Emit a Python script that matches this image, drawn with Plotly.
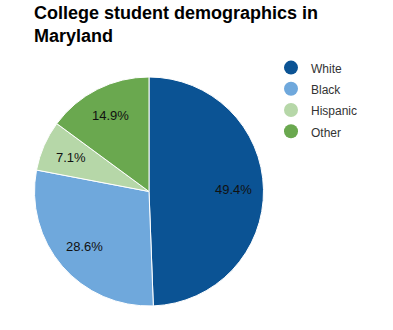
import math
import plotly.graph_objects as go

# Enrollment shares by group (percent)
groups = ["White", "Black", "Hispanic", "Other"]
shares = [49.4, 28.6, 7.1, 14.9]
colors = ["#0b5394", "#6fa8dc", "#b6d7a8", "#6aa84f"]

W, H = 393, 330
FONT = "Liberation Sans, Arial, sans-serif"

# Pie placement in pixels
cx, cy, R = 149.0, 191.5, 114.5
LABEL_R = 0.74 * R

fig = go.Figure()

fig.add_trace(go.Pie(
    labels=groups,
    values=shares,
    sort=False,
    direction="clockwise",
    rotation=0,
    marker=dict(colors=colors, line=dict(color="white", width=1)),
    textinfo="none",
    hoverinfo="label+percent",
    showlegend=False,
    domain=dict(x=[(cx - R) / W, (cx + R) / W], y=[(H - cy - R) / H, (H - cy + R) / H]),
))

# Circular legend swatches
for g, c in zip(groups, colors):
    fig.add_trace(go.Scatter(
        x=[None], y=[None], mode="markers",
        name=f'<span style="font-size:12px">{g}</span>',
        marker=dict(symbol="circle", size=14, color=c),
        hoverinfo="skip",
    ))

# Percentage labels placed at each slice's mid-angle (clockwise from 12 o'clock)
annotations = []
total = sum(shares)
cum = 0.0
for v in shares:
    mid = (cum + v / 2) / total * 2 * math.pi
    cum += v
    px = cx + LABEL_R * math.sin(mid)
    py = cy - LABEL_R * math.cos(mid)
    annotations.append(dict(
        text=f"{v:.1f}%", xref="paper", yref="paper",
        x=px / W, y=1 - py / H, xanchor="center", yanchor="middle",
        showarrow=False,
        font=dict(family=FONT, size=13, color="#111111"),
    ))

annotations.append(dict(
    text="<b>College student demographics in<br>Maryland</b>",
    xref="paper", yref="paper",
    x=32 / W, y=1 - 1 / H, xanchor="left", yanchor="top",
    align="left", showarrow=False,
    font=dict(family=FONT, size=18, color="#000000"),
))

fig.update_layout(
    width=W, height=H,
    margin=dict(l=0, r=0, t=0, b=0),
    paper_bgcolor="white",
    plot_bgcolor="white",
    xaxis=dict(visible=False),
    yaxis=dict(visible=False),
    showlegend=True,
    legend=dict(
        x=271 / W, y=1 - 52 / H, xanchor="left", yanchor="top",
        font=dict(family=FONT, size=14, color="#333333"),
        bgcolor="rgba(0,0,0,0)",
        tracegroupgap=0,
    ),
    annotations=annotations,
)

fig.write_html("out.html")
